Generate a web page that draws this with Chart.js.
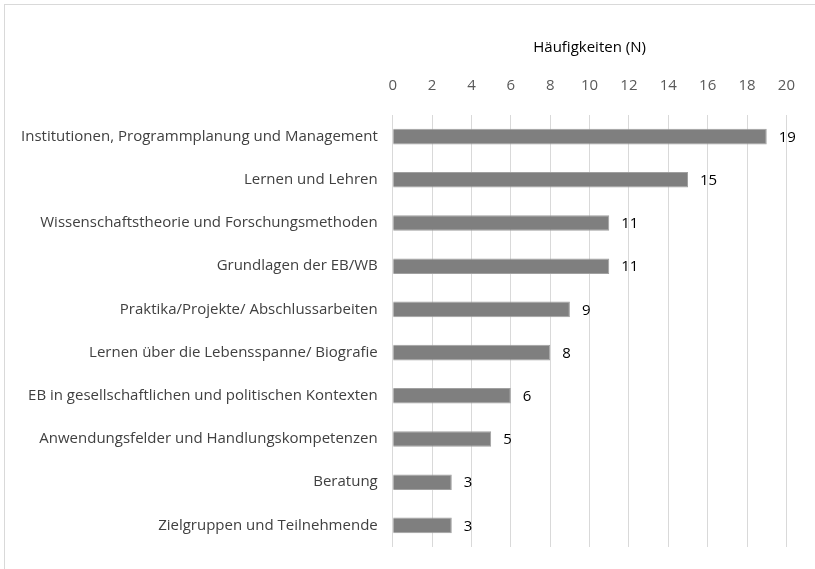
<!DOCTYPE html>
<html>
<head>
<meta charset="utf-8">
<script src="https://cdn.jsdelivr.net/npm/chart.js@4.4.1/dist/chart.umd.min.js"></script>
<style>
  body { margin: 0; background: #fff; }
  #wrap { position: relative; width: 815px; height: 569px; overflow: hidden; }
  #frame { position: absolute; left: 4px; top: 4px; width: 840px; height: 600px; border: 1px solid #d9d9d9; }
  canvas { position: absolute; left: 0; top: 0; }
</style>
</head>
<body>
<div id="wrap">
  <div id="frame"></div>
  <canvas id="chart" width="815" height="569"></canvas>
</div>
<script>
const categories = [
  'Institutionen, Programmplanung und Management',
  'Lernen und Lehren',
  'Wissenschaftstheorie und Forschungsmethoden',
  'Grundlagen der EB/WB',
  'Praktika/Projekte/ Abschlussarbeiten',
  'Lernen über die Lebensspanne/ Biografie',
  'EB in gesellschaftlichen und politischen Kontexten',
  'Anwendungsfelder und Handlungskompetenzen',
  'Beratung',
  'Zielgruppen und Teilnehmende'
];
const counts = [19, 15, 11, 11, 9, 8, 6, 5, 3, 3];
const axisTitle = 'Häufigkeiten (N)';

const fontFamily = "'Open Sans', sans-serif";

// draws the value next to each bar
const valueLabels = {
  id: 'valueLabels',
  afterDatasetsDraw(chart) {
    const ctx = chart.ctx;
    const meta = chart.getDatasetMeta(0);
    ctx.save();
    ctx.font = '15px ' + fontFamily;
    ctx.fillStyle = '#000';
    ctx.textAlign = 'left';
    ctx.textBaseline = 'middle';
    meta.data.forEach((bar, i) => {
      ctx.fillText(String(counts[i]), bar.x + 12, bar.y + 1);
    });
    ctx.restore();
  }
};

new Chart(document.getElementById('chart').getContext('2d'), {
  type: 'bar',
  data: {
    labels: categories,
    datasets: [{
      data: counts,
      backgroundColor: '#7f7f7f',
      borderColor: '#a0a0a0',
      borderWidth: 1,
      barPercentage: 0.36,
      categoryPercentage: 1
    }]
  },
  options: {
    indexAxis: 'y',
    responsive: false,
    animation: false,
    layout: { autoPadding: false, padding: { left: 14, right: 12, top: 39, bottom: 22 } },
    plugins: {
      legend: { display: false },
      tooltip: { enabled: false }
    },
    scales: {
      x: {
        position: 'top',
        min: 0,
        max: 20,
        ticks: {
          stepSize: 2,
          color: '#595959',
          font: { family: fontFamily, size: 15 },
          padding: 20
        },
        grid: { color: '#d9d9d9', drawTicks: false },
        border: { display: false },
        title: {
          display: true,
          text: axisTitle,
          color: '#000',
          font: { family: fontFamily, size: 15 },
          padding: { top: 0, bottom: 0 }
        }
      },
      y: {
        ticks: {
          color: '#404040',
          font: { family: fontFamily, size: 15 },
          padding: 7
        },
        grid: { display: false },
        border: { display: false }
      }
    }
  },
  plugins: [valueLabels]
});
</script>
</body>
</html>
